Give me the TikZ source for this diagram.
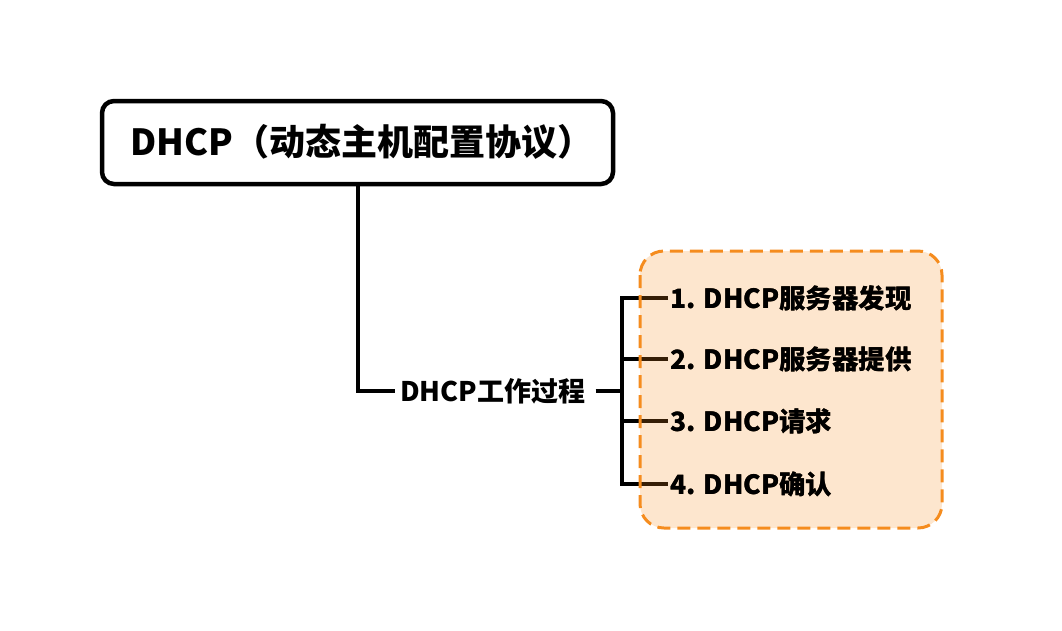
\documentclass[tikz,border=0pt]{standalone}
\usepackage{fontspec}
\setmainfont{Noto Sans CJK SC}
\definecolor{boxorange}{RGB}{245,140,30}
\tikzset{
  x=1pt, y=-1pt,
  rootbox/.style={draw=black, line width=4.5pt, fill=white, rounded corners=12pt},
  groupbox/.style={draw=boxorange, line width=3pt, dash pattern=on 13pt off 7pt,
    fill=boxorange, fill opacity=0.22, draw opacity=1, rounded corners=24pt},
  link/.style={draw=black, line width=3.5pt},
  label/.style={inner sep=0pt, anchor=west, font=\bfseries\fontsize{26.5}{26.5}\selectfont},
}
\begin{document}
\begin{tikzpicture}
  \useasboundingbox (0,0) rectangle (1062,630);
  % root
  \draw[rootbox] (102,101) rectangle (613,184);
  \node[inner sep=0pt, anchor=west, font=\bfseries\fontsize{36}{36}\selectfont] (root) at (130,142) {DHCP（动态主机配置协议）};
  \coordinate (rootb) at (358,184);
  % second level
  \node[label, font=\bfseries\fontsize{27}{27}\selectfont] (proc) at (400,391) {DHCP工作过程};
  \coordinate (bus) at (622,391);
  \draw[link] (rootb) |- ([xshift=-5pt]proc.west);
  \draw[link] ([xshift=10pt]proc.east) -- (bus);
  % leaves
  \node[label] (s1) at (670,298) {1. DHCP服务器发现};
  \node[label] (s2) at (670,359) {2. DHCP服务器提供};
  \node[label] (s3) at (670,421) {3. DHCP请求};
  \node[label] (s4) at (670,484) {4. DHCP确认};
  \draw[link] ([xshift=-2pt]s1.west) -| (bus) |- ([xshift=-2pt]s4.west);
  \draw[link] (bus |- s2.west) -- ([xshift=-2pt]s2.west);
  \draw[link] (bus |- s3.west) -- ([xshift=-2pt]s3.west);
  % group box, drawn over the connectors
  \draw[groupbox] (640,251) rectangle (942,528);
  % leaf labels again on top of the tint
  \node[label] at (s1.west) {1. DHCP服务器发现};
  \node[label] at (s2.west) {2. DHCP服务器提供};
  \node[label] at (s3.west) {3. DHCP请求};
  \node[label] at (s4.west) {4. DHCP确认};
\end{tikzpicture}
\end{document}
